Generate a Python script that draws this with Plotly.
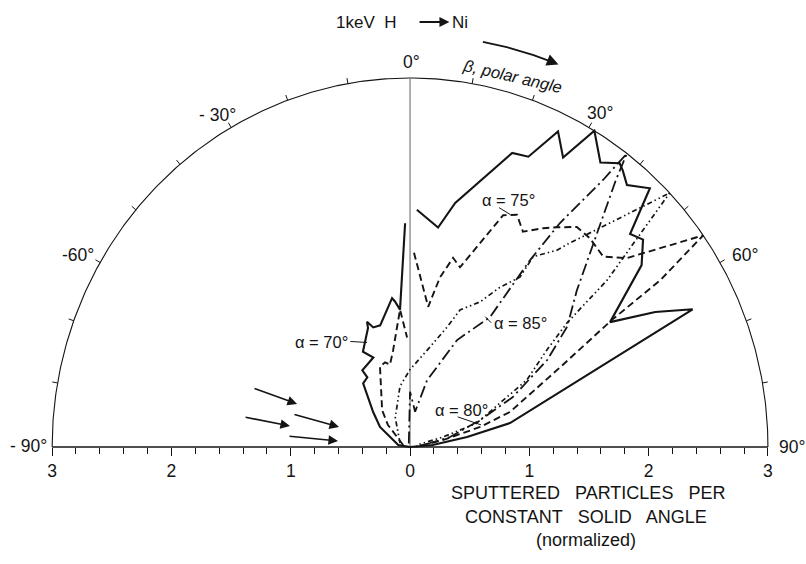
import math
import plotly.graph_objects as go

# Polar emission diagrams: beta = polar angle in degrees (0 = surface normal,
# positive towards the right), r = sputtered particles per constant solid
# angle (normalized). None marks the missing measurement at beta = 0.
beta_70 = [-90, -80.8, -57.1, -47.4, -37.2, -32.3, -32.7, -22.9, -27.0, -20.0,
           -19.5, -17.6, -14.2, -7.1, -6.1, -4.3, -1.3, 0, 1.7, 7.5, 10.8,
           19.7, 22.8, 25.8, 28.6, 31.0, 34.6, 37.3, 38.4, 40.5, 43.7, 46.8,
           49.2, 52.7, 58.8, 61.9, 64.7, 76.9, 80.3, 85.2, 90]
r_70 = [0, 0.10, 0.30, 0.42, 0.65, 0.67, 0.74, 0.79, 0.87, 1.03,
        1.08, 1.02, 1.02, 1.22, 1.19, 1.12, 1.82, None, 1.93, 1.80, 2.02,
        2.54, 2.56, 2.85, 2.68, 3.0, 2.81, 2.90, 2.87, 2.80, 2.91, 2.53,
        2.58, 2.44, 1.96, 2.33, 2.62, 0.86, 0.485, 0.19, 0]

beta_75 = [-74.5, -45.8, -38, -25.7, -21.1, -16.9, -14.1, -10.2, -5.7, -4.3,
           -1.6, 0, 1.2, 7.6, 10.3, 13.2, 16.0, 22.5, 25.4, 28.4, 32.1, 34.6,
           38.0, 41.6, 46.3, 49.8, 55.0, 57.1, 58.6, 62.7, 71.2, 74.5, 78.4, 86]
r_75 = [0.06, 0.26, 0.38, 0.56, 0.70, 0.72, 0.69, 0.80, 1.01, 1.12,
        0.89, None, 1.58, 1.15, 1.40, 1.58, 1.52, 2.04, 2.09, 1.99, 2.10, 2.17,
        2.27, 2.27, 2.24, 2.38, 3.0, 2.50, 1.98, 1.42, 0.885, 0.61, 0.28, 0.05]

beta_80 = [-68.8, -27.3, -9.7, 0, 11.6, 17.6, 20.6, 26.5, 30.1, 33.7, 33.7,
           37.6, 38.9, 46.5, 50.6, 52.5, 55.5, 60.9, 64.6, 70.9, 73.6, 74.5]
r_80 = [0.09, 0.27, 0.50, 0.63, 0.83, 1.02, 1.19, 1.32, 1.50, 1.66, 1.86,
        2.02, 2.13, 3.0, 2.14, 1.66, 1.39, 1.12, 0.835, 0.59, 0.29, 0.06]

beta_85 = [-20, 0, 8.4, 14.7, 24.4, 32.4, 33.5, 34.6, 36.7, 37.3, 38.5, 42.8,
           47.7, 53.4, 58.4, 64.8, 69.5, 76.4, 84.5]
r_85 = [0.03, 0.45, 0.29, 0.56, 0.955, 1.25, 1.82, 2.21, 2.71, 3.0, 2.77, 2.26,
        1.89, 1.64, 1.35, 0.95, 0.63, 0.345, 0.084]

radial_ticks = [-3, -2, -1, 0, 1, 2, 3]
radial_labels = ["3", "2", "1", "0", "1", "2", "3"]
angle_labels = {-90: "- 90°", -60: "-60°", -30: "- 30°", 0: "0°", 30: "30°", 60: "60°", 90: "90°"}

R_MAX = 3.0
INK = "#141414"
FONT = "Liberation Sans"

# plot window (data units); x and y scales differ slightly
X_RANGE = [-3.437, 3.319]
Y_RANGE = [-0.951, 3.634]


def polar_xy(beta, r):
    xs, ys = [], []
    for b, v in zip(beta, r):
        if v is None:
            xs.append(None)
            ys.append(None)
        else:
            t = math.radians(b)
            xs.append(v * math.sin(t))
            ys.append(v * math.cos(t))
    return xs, ys


fig = go.Figure()

# outer semicircle (r = 3)
arc_b = [i * 0.5 for i in range(-180, 181)]
ax_, ay_ = polar_xy(arc_b, [R_MAX] * len(arc_b))
fig.add_trace(go.Scatter(x=ax_, y=ay_, mode="lines",
                         line=dict(color=INK, width=1.1), hoverinfo="skip"))

# 10-degree ticks on the semicircle
tx, ty = [], []
for b in range(-80, 81, 10):
    if b == 0:
        continue
    px, py = polar_xy([b, b], [R_MAX, R_MAX + 0.045])
    tx += px + [None]
    ty += py + [None]
fig.add_trace(go.Scatter(x=tx, y=ty, mode="lines",
                         line=dict(color=INK, width=1), hoverinfo="skip"))

# surface normal
fig.add_trace(go.Scatter(x=[0, 0], y=[0, R_MAX], mode="lines",
                         line=dict(color="#7a7a7a", width=1.2), hoverinfo="skip"))

# target surface (diameter)
fig.add_trace(go.Scatter(x=[-R_MAX, R_MAX], y=[0, 0], mode="lines",
                         line=dict(color=INK, width=1.6), hoverinfo="skip"))

curves = [
    (beta_70, r_70, "solid", 2.1),
    (beta_75, r_75, "7px,4px", 1.9),
    (beta_80, r_80, "5px,3px,1.5px,3px,1.5px,3px", 1.7),
    (beta_85, r_85, "12px,4px,2px,4px", 1.8),
]
for b, r, dash, w in curves:
    cx, cy = polar_xy(b, r)
    fig.add_trace(go.Scatter(x=cx, y=cy, mode="lines", connectgaps=False,
                             line=dict(color=INK, width=w, dash=dash),
                             hoverinfo="skip"))

# curved arrow for the polar angle direction
cb = [10.5 + i * 0.25 for i in range(0, 43)]
cax, cay = polar_xy(cb, [3.35] * len(cb))
fig.add_trace(go.Scatter(x=cax, y=cay, mode="lines",
                         line=dict(color=INK, width=1.8), hoverinfo="skip"))

ann = []


def text(x, y, s, size=15, angle=0, xanchor="center", italic=False):
    ann.append(dict(x=x, y=y, xref="x", yref="y", text=s, showarrow=False,
                    xanchor=xanchor, yanchor="middle", textangle=angle,
                    font=dict(family=FONT, size=size, color=INK,
                              style="italic" if italic else "normal")))


def arrow(x0, y0, x1, y1, size=1.2, width=1.6):
    ann.append(dict(x=x1, y=y1, ax=x0, ay=y0, xref="x", yref="y",
                    axref="x", ayref="y", text="", showarrow=True,
                    arrowhead=2, arrowsize=size, arrowwidth=width,
                    arrowcolor=INK))


# angle labels
label_pos = {-90: (-3.20, 0.01), -60: (-2.787, 1.561), -30: (-1.614, 2.70),
             0: (0.015, 3.13), 30: (1.593, 2.715), 60: (2.808, 1.561),
             90: (3.198, 0.0)}
for a, s in angle_labels.items():
    x, y = label_pos[a]
    text(x, y, s, size=17.5)

# title
text(-0.097, 3.455, "1keV\u00a0\u00a0H", size=17, xanchor="right")
arrow(0.067, 3.455, 0.33, 3.455, size=1.0, width=2.0)
text(0.335, 3.455, "Ni", size=17, xanchor="left")

# polar angle caption and arrow head
text(0.86, 3.02, "\u03b2, polar angle", size=16.5, angle=13, italic=True)
hb0, hb1 = polar_xy([20.8, 21.8], [3.35, 3.35])
arrow(hb0[0], hb1[0], hb0[1], hb1[1], size=1.3, width=1.8)

# incidence labels with leaders
text(-0.742, 0.854, "\u03b1 = 70°", size=16.5)
fig.add_trace(go.Scatter(x=[-0.50, -0.36], y=[0.858, 0.85], mode="lines",
                         line=dict(color=INK, width=1), hoverinfo="skip"))
text(0.822, 2.008, "\u03b1 = 75°", size=16.5)
fig.add_trace(go.Scatter(x=[0.746, 0.84], y=[1.946, 1.89], mode="lines",
                         line=dict(color=INK, width=1), hoverinfo="skip"))
text(0.922, 1.008, "\u03b1 = 85°", size=16.5)
fig.add_trace(go.Scatter(x=[0.63, 0.68], y=[1.06, 1.01], mode="lines",
                         line=dict(color=INK, width=1), hoverinfo="skip"))
text(0.4275, 0.30, "\u03b1 = 80°", size=16.5)
fig.add_trace(go.Scatter(x=[0.40, 0.595], y=[0.245, 0.18], mode="lines",
                         line=dict(color=INK, width=1), hoverinfo="skip"))

# incoming ion directions
arrow(-1.316, 0.480, -0.947, 0.350)
arrow(-1.391, 0.244, -1.006, 0.171)
arrow(-0.981, 0.268, -0.595, 0.163)
arrow(-1.023, 0.089, -0.6035, 0.049)

# axis caption
text(1.49, -0.374, "SPUTTERED\u00a0\u00a0 PARTICLES\u00a0\u00a0 PER", size=18)
text(1.471, -0.569, "CONSTANT\u00a0\u00a0 SOLID\u00a0\u00a0 ANGLE", size=18)
text(1.475, -0.756, "(normalized)", size=18)

minor_vals = [round(-3 + 0.2 * i, 1) for i in range(31)]
minor_vals = [v for v in minor_vals if abs(v - round(v)) > 1e-6]

base_frac = (0 - Y_RANGE[0]) / (Y_RANGE[1] - Y_RANGE[0])

fig.update_layout(
    width=806, height=564,
    margin=dict(l=0, r=0, t=0, b=0),
    paper_bgcolor="white", plot_bgcolor="white",
    showlegend=False,
    annotations=ann,
    xaxis=dict(range=X_RANGE, domain=[0, 1], anchor="free", position=base_frac,
               showgrid=False, zeroline=False, showline=False,
               tickmode="array", tickvals=radial_ticks, ticktext=radial_labels,
               ticks="outside", ticklen=8, tickwidth=1.3, tickcolor=INK,
               tickfont=dict(family=FONT, size=17.5, color=INK),
               minor=dict(tickmode="array", tickvals=minor_vals, ticks="outside",
                          ticklen=6, tickwidth=1.2, tickcolor=INK),
               fixedrange=True),
    yaxis=dict(range=Y_RANGE, domain=[0, 1], visible=False, fixedrange=True),
)

fig.write_html("out.html")
